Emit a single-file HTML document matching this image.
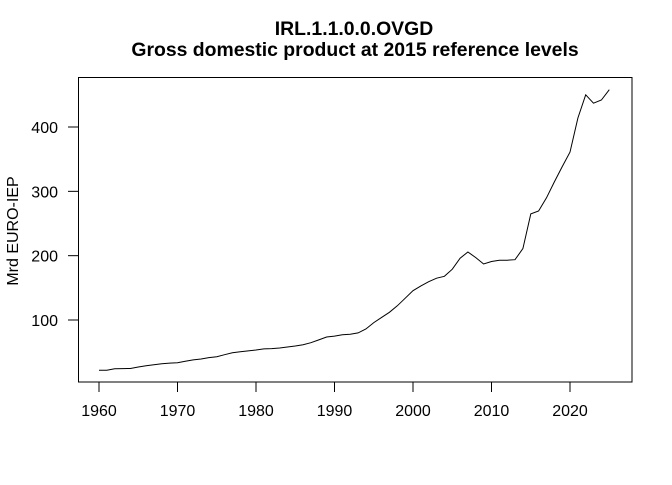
<!DOCTYPE html>
<html><head><meta charset="utf-8"><style>
body{margin:0;background:#fff}
svg text{font-family:"Liberation Sans",Arial,sans-serif;fill:#000}
</style></head><body>
<svg width="672" height="480">
<text x="354" y="35" font-size="19.4" font-weight="bold" text-anchor="middle">IRL.1.1.0.0.OVGD</text>
<text x="355" y="56" font-size="19.4" font-weight="bold" text-anchor="middle">Gross domestic product at 2015 reference levels</text>
<rect x="78.5" y="77.5" width="553.5" height="304.5" fill="none" stroke="#000"/>
<text transform="translate(18,231) rotate(-90)" font-size="16" text-anchor="middle">Mrd EURO-IEP</text>
<g id="xaxis"></g>
<g id="yaxis"></g>
<path id="line" fill="none" stroke="#000" stroke-width="1"/>
</svg>
<script>
const years=[];for(let y=1960;y<=2025;y++)years.push(y);
const values=[21.8,21.8,24.3,24.5,24.6,27,29,30.5,32,33,33.5,36,38,39.4,41.5,43,46,49,50.7,52,53.4,55,55.5,56.5,58,59.6,61.6,64.7,69,73.6,75,77,78,80,86,96,104,112,122,133.7,145.6,153,159.6,165,168,179,196,205.7,197,187,191,193,193,193.7,211,265,269.5,290,314.5,338,361,414,450,437,442,458];
const xTicks=[1960,1970,1980,1990,2000,2010,2020];
const yTicks=[100,200,300,400];
const sx=y=>99+(y-1960)*471/60;
const sy=v=>320-(v-100)*0.6433;
const NS="http://www.w3.org/2000/svg";
const xa=document.getElementById('xaxis'),ya=document.getElementById('yaxis');
xTicks.forEach(t=>{
 const l=document.createElementNS(NS,'line');
 l.setAttribute('x1',sx(t));l.setAttribute('x2',sx(t));l.setAttribute('y1',382);l.setAttribute('y2',392);l.setAttribute('stroke','#000');
 
 
 xa.appendChild(l);
 const tx=document.createElementNS(NS,'text');
 tx.setAttribute('x',sx(t));tx.setAttribute('y',416);tx.setAttribute('font-size','16');tx.setAttribute('text-anchor','middle');tx.textContent=t;
 
 
 xa.appendChild(tx);
});
yTicks.forEach(t=>{
 const l=document.createElementNS(NS,'line');
 l.setAttribute('x1',68);l.setAttribute('x2',78.5);l.setAttribute('y1',sy(t));l.setAttribute('y2',sy(t));l.setAttribute('stroke','#000');
 
 
 ya.appendChild(l);
 const tx=document.createElementNS(NS,'text');
 tx.setAttribute('x',58);tx.setAttribute('y',sy(t)+6);tx.setAttribute('font-size','16');tx.setAttribute('text-anchor','end');tx.textContent=t;
 
 
 ya.appendChild(tx);
});
document.getElementById('line').setAttribute('d',values.map((v,i)=>(i?'L':'M')+sx(years[i]).toFixed(1)+','+sy(v).toFixed(1)).join(''));
</script>
</body></html>
